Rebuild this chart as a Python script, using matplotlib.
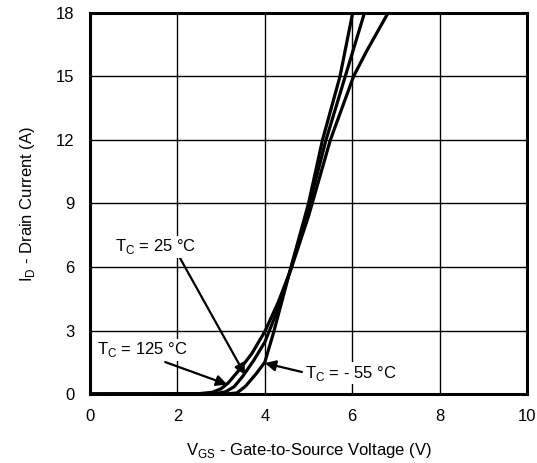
import numpy as np
import matplotlib
matplotlib.use("Agg")
import matplotlib.pyplot as plt

plt.rcParams['font.family'] = ['Liberation Sans', 'DejaVu Sans']
plt.rcParams['mathtext.fontset'] = 'custom'
plt.rcParams['mathtext.rm'] = 'Liberation Sans'

# transfer characteristics
vgs_125 = [0, 2.5, 2.8, 3.0, 3.16, 3.4, 3.7, 4.0, 4.3, 4.6, 5.0, 5.5, 6.03, 6.33, 6.82]
id_125 = [0, 0.02, 0.08, 0.25, 0.52, 1.1, 1.9, 2.95, 4.3, 5.9, 8.4, 12.0, 15.0, 16.2, 18]

vgs_25 = [0, 2.8, 3.1, 3.3, 3.5, 3.75, 4.0, 4.3, 4.6, 5.0, 5.4, 5.84, 6.28]
id_25 = [0, 0.0, 0.1, 0.35, 0.85, 1.6, 2.45, 4.0, 5.95, 8.8, 12.0, 15.0, 18]

vgs_m55 = [0, 3.1, 3.36, 3.55, 3.8, 4.0, 4.2, 4.6, 5.0, 5.32, 5.72, 6.01]
id_m55 = [0, 0, 0.05, 0.35, 0.95, 1.5, 2.9, 6.0, 9.0, 12.0, 15.0, 18]

xticks = [0, 2, 4, 6, 8, 10]
yticks = [0, 3, 6, 9, 12, 15, 18]

fig = plt.figure(figsize=(5.37, 4.63), dpi=100)
ax = fig.add_axes([0.1676, 0.149, 0.8138, 0.823])

for v, i in [(vgs_125, id_125), (vgs_25, id_25), (vgs_m55, id_m55)]:
    ax.plot(v, i, color='black', lw=2.3, solid_joinstyle='round', clip_on=True)

ax.set_xlim(0, 10)
ax.set_ylim(0, 18)
ax.set_xticks(xticks)
ax.set_yticks(yticks)
ax.grid(True, color='black', lw=1.0)
ax.tick_params(length=0, labelsize=12, pad=11)
for s in ax.spines.values():
    s.set_linewidth(2.2)

ax.set_xlabel(r'V$_\mathregular{GS}$ - Gate-to-Source Voltage (V)', fontsize=12, labelpad=12)
ax.set_ylabel(r'I$_\mathregular{D}$ - Drain Current (A)', fontsize=12, labelpad=14)

arrow = dict(arrowstyle='-|>', color='black', lw=1.6, mutation_scale=16, shrinkA=0, shrinkB=0)
ax.annotate('', xy=(3.55, 0.9), xytext=(2.06, 6.42), arrowprops=arrow)
ax.annotate('', xy=(3.14, 0.45), xytext=(1.72, 1.51), arrowprops=arrow)
ax.annotate('', xy=(4.0, 1.46), xytext=(4.85, 1.04), arrowprops=arrow)

ax.text(0.57, 6.96, r'T$_\mathregular{C}$ = 25 °C', fontsize=12, va='center', ha='left',
        bbox=dict(fc='white', ec='none', pad=1))
ax.text(0.16, 2.08, r'T$_\mathregular{C}$ = 125 °C', fontsize=12, va='center', ha='left',
        bbox=dict(fc='white', ec='none', pad=1))
ax.text(4.92, 0.99, r'T$_\mathregular{C}$ = - 55 °C', fontsize=12, va='center', ha='left',
        bbox=dict(fc='white', ec='none', pad=1))

fig.savefig('out.png', dpi=100)
